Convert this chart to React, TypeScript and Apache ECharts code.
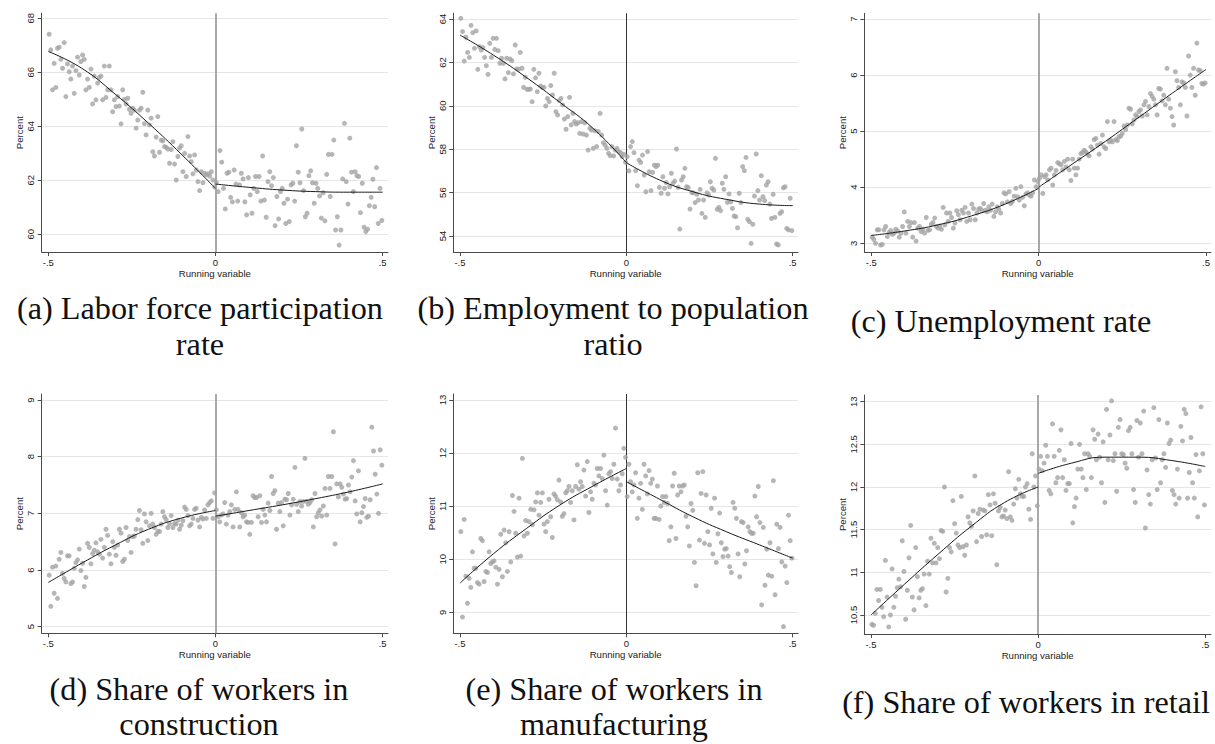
import React, { useEffect, useRef } from "react";
import * as echarts from "echarts";

// ---------- shared ticks ----------
const X_TICKS = [-0.5, 0, 0.5];
const X_TICK_LABELS = ["-.5", "0", ".5"];
const FIT_X_LEFT = [-0.5, -0.4, -0.3, -0.2, -0.1, 0];
const FIT_X_RIGHT = [0, 0.1, 0.2, 0.3, 0.4, 0.5];
const X_TITLE = "Running variable";
const Y_TITLE = "Percent";

// ---------- (a) Labor force participation rate ----------
const A_Y_TICKS = [60, 62, 64, 66, 68];
const A_LEFT = [
  67.41, 66.83, 65.35, 66.33, 65.44, 66.89, 66.93, 66.48, 66.15, 67.1,
  65.1, 66.31, 66.02, 65.75, 66.23, 65.22, 66.06, 66.56, 65.9, 66.4,
  66.64, 66.48, 65.35, 65.75, 65.44, 66.12, 64.83, 65.86, 64.98, 65.6,
  65.81, 65.86, 64.98, 66.23, 65.07, 65.35, 66.23, 65.35, 64.54, 64.98,
  64.73, 65.1, 64.75, 64.09, 65.35, 65.0, 64.83, 65.04, 64.63, 64.48,
  64.67, 64.6, 63.93, 64.23, 64.6, 64.67, 65.26, 64.1, 63.68, 64.6,
  64.05, 64.3, 63.06, 62.9, 63.6, 64.36, 63.04, 63.49, 63.46, 63.25,
  63.22, 63.16, 62.63, 63.14, 63.43, 62.6, 62.01, 62.88, 63.19, 63.28,
  62.32, 63.0, 62.14, 63.62, 62.9, 62.69, 62.24, 62.94, 62.38, 61.95,
  61.62, 62.32, 61.91, 62.26, 62.2, 62.24, 62.16, 62.32, 62.01, 61.75,
];
const A_RIGHT = [
  61.91, 61.58, 63.1, 62.67, 61.7, 60.94, 62.26, 62.3, 61.37, 61.2,
  62.38, 61.86, 61.23, 61.83, 62.26, 62.05, 61.2, 60.72, 62.1, 61.46,
  60.78, 61.7, 62.14, 61.58, 62.14, 61.23, 62.9, 61.27, 60.63, 61.95,
  62.32, 61.8, 62.1, 60.32, 61.4, 60.57, 61.58, 61.7, 61.15, 60.4,
  61.3, 60.47, 61.83, 61.89, 61.23, 63.28, 62.3, 61.91, 63.9, 61.62,
  60.65, 60.78, 62.17, 62.35, 61.91, 61.15, 61.89, 61.7, 61.42, 60.6,
  61.54, 60.5, 62.22, 62.96, 61.4, 62.96, 63.49, 60.16, 60.65, 59.6,
  60.16, 62.05, 64.11, 61.95, 61.12, 63.56, 62.3, 61.58, 62.32, 62.17,
  62.14, 60.8, 61.89, 60.26, 60.1, 60.19, 61.06, 61.37, 62.04, 61.02,
  62.47, 60.4, 61.7, 60.51,
];
const A_FIT_L = [66.77, 66.15, 65.19, 64.11, 62.94, 61.7];
const A_FIT_R = [61.86, 61.74, 61.64, 61.58, 61.56, 61.56];
const A_CAPTION = ["(a) Labor force participation", "rate"];

// ---------- (b) Employment to population ratio ----------
const B_Y_TICKS = [54, 56, 58, 60, 62, 64];
const B_LEFT = [
  64.03, 63.42, 62.06, 63.16, 62.46, 62.23, 63.71, 63.37, 62.65, 63.45,
  61.68, 62.72, 62.57, 62.68, 62.23, 61.85, 61.45, 62.88, 62.23, 63.11,
  62.6, 63.11, 62.54, 61.96, 62.19, 61.96, 61.24, 62.19, 61.53, 62.16,
  62.08, 61.47, 62.8, 61.7, 61.68, 62.46, 61.73, 60.85, 61.31, 60.76,
  60.76, 60.77, 60.19, 61.68, 61.29, 60.65, 61.5, 60.91, 60.84, 60.85,
  59.99, 60.34, 60.19, 60.93, 60.5, 61.5, 59.73, 59.58, 60.24, 60.34,
  60.04, 59.39, 58.92, 59.5, 60.39, 59.12, 59.65, 59.27, 59.16, 59.22,
  58.73, 59.27, 58.7, 59.22, 58.65, 57.96, 58.96, 58.88, 58.04, 58.85,
  58.12, 58.81, 59.65, 58.65, 58.3, 58.19, 58.04, 57.81, 57.7, 58.12,
  57.69, 57.96, 58.04, 57.89, 57.84, 57.66, 57.77, 57.4,
];
const B_RIGHT = [
  57.66, 57.0, 58.12, 58.35, 57.84, 57.01, 56.32, 57.5, 57.39, 57.73,
  56.81, 56.04, 57.89, 56.96, 56.09, 56.93, 57.27, 57.2, 57.27, 56.24,
  55.97, 56.73, 56.2, 56.46, 55.94, 56.27, 56.89, 56.43, 56.53, 58.01,
  56.24, 54.32, 56.58, 56.73, 57.12, 56.27, 56.23, 55.24, 56.0, 55.99,
  55.54, 55.92, 55.66, 56.15, 55.04, 55.66, 54.86, 55.99, 55.89, 56.5,
  56.2, 56.12, 57.58, 55.23, 55.32, 55.17, 56.43, 56.15, 56.73, 55.55,
  55.94, 55.58, 55.27, 54.92, 54.89, 54.38, 55.97, 55.54, 57.2, 57.01,
  57.62, 54.77, 54.66, 53.66, 54.54, 55.84, 57.78, 56.09, 55.66, 56.78,
  55.81, 55.63, 56.35, 56.5, 55.47, 54.81, 55.92, 54.86, 53.63, 53.59,
  55.04, 55.12, 56.22, 56.27, 54.35, 54.28, 55.74, 54.25,
];
const B_FIT_L = [63.26, 62.34, 61.3, 60.16, 58.96, 57.38];
const B_FIT_R = [57.38, 56.58, 56.04, 55.69, 55.47, 55.4];
const B_CAPTION = ["(b) Employment to population", "ratio"];

// ---------- (c) Unemployment rate ----------
const C_Y_TICKS = [3, 4, 5, 6, 7];
const C_LEFT = [
  3.11, 3.07, 3.0, 3.24, 3.24, 2.97, 2.98, 3.24, 3.3, 3.12,
  3.19, 3.23, 3.16, 3.18, 3.25, 3.22, 3.11, 3.18, 3.3, 3.56,
  3.18, 3.39, 3.3, 3.37, 3.11, 3.37, 3.04, 3.27, 3.3, 3.21,
  3.25, 3.18, 3.46, 3.23, 3.24, 3.34, 3.37, 3.45, 3.3, 3.27,
  3.31, 3.25, 3.64, 3.33, 3.54, 3.39, 3.54, 3.46, 3.27, 3.36,
  3.58, 3.51, 3.42, 3.59, 3.54, 3.64, 3.39, 3.54, 3.42, 3.7,
  3.62, 3.42, 3.54, 3.61, 3.62, 3.58, 3.71, 3.59, 3.56, 3.65,
  3.59, 3.7, 3.48, 3.56, 3.65, 3.61, 3.54, 3.71, 3.9, 3.88,
  3.74, 3.92, 3.71, 3.75, 3.84, 3.98, 3.83, 3.77, 4.01, 3.82,
  3.67, 3.88, 3.9, 3.86, 3.84, 3.9, 4.13, 4.01, 4.1,
];
const C_RIGHT = [
  4.16, 4.22, 3.89, 4.19, 4.22, 4.13, 4.31, 4.34, 4.04, 4.22,
  4.3, 4.44, 4.42, 4.4, 4.31, 4.46, 4.36, 4.5, 4.31, 4.12,
  4.5, 4.34, 4.22, 4.34, 4.5, 4.6, 4.62, 4.66, 4.63, 4.59,
  4.56, 4.72, 4.68, 4.85, 4.87, 4.75, 4.59, 4.78, 4.93, 4.72,
  4.69, 5.17, 4.81, 4.84, 4.81, 5.17, 4.85, 4.83, 4.9, 4.91,
  4.96, 5.09, 5.03, 5.11, 5.41, 5.39, 5.13, 5.2, 5.29, 5.26,
  5.35, 5.38, 5.27, 5.47, 5.53, 5.29, 5.44, 5.67, 5.62, 5.57,
  5.47, 5.29, 5.76, 5.75, 5.54, 5.64, 5.47, 6.12, 5.57, 5.41,
  5.26, 5.11, 6.06, 5.9, 5.78, 5.47, 5.88, 5.86, 5.78, 5.27,
  6.34, 6.0, 5.78, 6.12, 5.64, 6.57, 6.09, 6.08, 5.85, 5.84, 5.86,
];
const C_FIT_L = [3.14, 3.22, 3.33, 3.49, 3.7, 3.98];
const C_FIT_R = [4.0, 4.41, 4.82, 5.25, 5.68, 6.1];
const C_CAPTION = ["(c) Unemployment rate"];

// ---------- (d) Share of workers in construction ----------
const D_Y_TICKS = [5, 6, 7, 8, 9];
const D_LEFT = [
  5.91, 5.36, 6.05, 5.59, 6.07, 5.5, 6.19, 6.31, 5.94, 5.85,
  5.79, 6.25, 6.25, 5.76, 5.79, 6.03, 6.13, 6.18, 6.37, 5.99,
  6.12, 5.71, 5.87, 6.47, 6.4, 6.11, 6.29, 6.35, 6.48, 6.32,
  6.28, 6.54, 6.21, 6.4, 6.72, 6.61, 6.28, 6.11, 6.5, 6.4,
  6.26, 6.44, 6.72, 6.65, 6.15, 6.19, 6.75, 6.52, 6.59, 6.31,
  6.59, 6.6, 6.72, 6.89, 7.05, 6.71, 6.47, 6.99, 6.85, 6.52,
  6.78, 7.0, 6.81, 6.75, 6.63, 6.68, 6.68, 6.81, 7.03, 6.94,
  6.89, 6.75, 6.82, 6.96, 6.75, 6.82, 6.81, 6.88, 6.72, 6.79,
  6.87, 7.11, 7.07, 6.96, 6.78, 6.81, 6.91, 7.07, 7.09, 6.88,
  6.76, 6.93, 6.9, 7.06, 6.91, 7.15, 7.19, 7.22, 6.91, 7.36,
];
const D_RIGHT = [
  7.06, 6.94, 6.85, 6.97, 6.99, 7.19, 6.81, 6.97, 7.03, 7.15,
  6.76, 7.07, 7.38, 7.07, 6.76, 7.01, 6.94, 6.97, 6.85, 6.84,
  6.63, 6.84, 7.31, 7.28, 7.28, 6.94, 7.31, 6.84, 7.07, 6.97,
  6.85, 7.18, 7.05, 7.65, 7.35, 7.4, 6.72, 7.18, 7.03, 7.19,
  6.78, 7.25, 7.24, 7.35, 6.97, 7.15, 7.25, 7.81, 7.16, 7.03,
  7.21, 7.13, 7.21, 7.97, 7.21, 7.16, 7.19, 7.24, 6.76, 7.35,
  6.94, 7.01, 7.06, 6.95, 7.13, 7.44, 6.97, 7.65, 7.44, 7.65,
  8.44, 6.46, 7.52, 7.29, 7.52, 7.46, 7.34, 7.25, 7.26, 7.5,
  7.38, 7.64, 7.93, 7.22, 6.99, 7.75, 6.85, 7.01, 7.12, 7.26,
  6.93, 6.95, 7.24, 8.52, 8.1, 7.69, 7.34, 7.0, 8.12, 7.85,
];
const D_FIT_L = [5.78, 6.12, 6.44, 6.72, 6.92, 7.05];
const D_FIT_R = [6.95, 7.05, 7.15, 7.26, 7.38, 7.52];
const D_CAPTION = ["(d) Share of workers in", "construction"];

// ---------- (e) Share of workers in manufacturing ----------
const E_Y_TICKS = [9, 10, 11, 12, 13];
const E_LEFT = [
  10.52, 8.91, 10.75, 9.68, 9.17, 9.64, 9.47, 10.14, 9.83, 9.83,
  9.56, 9.53, 10.39, 10.35, 9.58, 9.77, 9.75, 10.14, 9.92, 9.95,
  9.97, 9.85, 9.53, 9.81, 10.47, 9.67, 10.55, 10.31, 9.77, 10.52,
  9.95, 11.2, 10.9, 10.49, 10.04, 11.15, 10.06, 11.9, 10.44, 10.73,
  10.49, 10.71, 10.94, 10.65, 10.93, 11.08, 11.25, 10.83, 11.07, 11.25,
  10.66, 10.52, 10.71, 11.13, 10.8, 10.41, 11.23, 11.19, 11.12, 11.49,
  11.08, 10.81, 10.86, 11.25, 11.29, 11.37, 11.07, 11.29, 10.74, 11.37,
  11.78, 11.32, 11.46, 11.37, 11.68, 11.19, 11.84, 10.88, 11.27, 11.13,
  11.43, 11.4, 11.71, 11.57, 11.71, 11.52, 11.96, 11.29, 11.02, 11.61,
  11.65, 11.52, 11.79, 12.47, 11.51, 11.29, 11.4, 11.61, 12.09, 11.92,
];
const E_RIGHT = [
  11.18, 11.79, 11.46, 11.27, 11.4, 11.63, 10.77, 11.15, 11.43, 10.94,
  11.79, 11.57, 11.23, 11.67, 11.43, 11.51, 10.77, 10.77, 11.38, 10.75,
  11.0, 11.18, 11.07, 11.18, 11.05, 10.35, 10.61, 11.38, 11.62, 10.39,
  11.21, 11.38, 11.27, 11.38, 11.4, 10.81, 10.61, 10.25, 11.05, 10.92,
  9.94, 9.5, 11.63, 10.36, 11.24, 11.65, 10.3, 11.21, 10.52, 10.27,
  10.96, 10.1, 11.15, 9.94, 10.48, 10.87, 10.31, 10.05, 10.19, 10.2,
  10.06, 9.86, 9.75, 11.07, 10.96, 10.77, 10.1, 9.67, 10.71, 10.69,
  9.91, 10.16, 10.61, 10.52, 10.49, 10.49, 11.19, 10.8, 11.37, 10.69,
  9.14, 10.6, 9.51, 10.19, 9.7, 10.31, 9.68, 11.48, 9.33, 10.66,
  10.2, 10.6, 9.95, 8.73, 9.87, 9.56, 10.83, 10.35, 10.02,
];
const E_FIT_L = [9.55, 10.1, 10.58, 11.02, 11.38, 11.71];
const E_FIT_R = [11.46, 11.13, 10.8, 10.52, 10.27, 10.02];
const E_CAPTION = ["(e) Share of workers in", "manufacturing"];

// ---------- (f) Share of workers in retail ----------
const F_Y_TICKS = [10.5, 11, 11.5, 12, 12.5, 13];
const F_LEFT = [
  10.39, 10.38, 10.52, 10.8, 10.67, 10.8, 10.59, 10.48, 11.14, 10.71,
  10.36, 10.5, 11.04, 10.59, 10.72, 10.82, 10.92, 10.83, 11.37, 11.01,
  10.45, 10.79, 11.17, 11.55, 10.71, 10.56, 11.29, 10.95, 10.7, 10.79,
  10.81, 10.98, 10.61, 11.13, 10.98, 11.4, 11.11, 11.34, 11.11, 11.29,
  11.16, 11.49, 11.48, 12.0, 10.77, 10.93, 11.29, 11.24, 11.84, 11.57,
  11.46, 11.32, 11.29, 11.89, 11.3, 11.2, 11.32, 11.65, 11.58, 11.54,
  11.72, 12.13, 11.36, 11.69, 11.74, 11.42, 11.73, 11.72, 11.44, 11.91,
  11.79, 11.43, 11.92, 11.81, 11.09, 11.72, 11.76, 11.65, 11.66, 11.73,
  11.63, 12.18, 11.65, 11.61, 11.8, 11.98, 11.87, 12.09, 11.92, 11.89,
  11.89, 12.0, 12.04, 11.74, 11.62, 12.39, 12.0, 12.13, 11.78,
];
const F_RIGHT = [
  12.21, 12.36, 12.19, 12.28, 12.49, 12.36, 11.96, 11.92, 12.74, 12.36,
  12.05, 12.11, 12.43, 12.67, 12.11, 12.32, 11.96, 12.04, 12.04, 12.51,
  11.58, 11.77, 11.87, 12.21, 12.5, 12.21, 12.11, 12.39, 11.97, 12.39,
  12.36, 12.11, 12.67, 12.56, 12.32, 12.62, 12.35, 12.05, 12.53, 11.82,
  12.91, 12.32, 12.61, 13.01, 12.31, 12.39, 11.95, 12.7, 12.79, 12.39,
  12.38, 12.28, 12.22, 12.66, 12.7, 12.39, 11.97, 11.82, 12.78, 12.35,
  12.75, 12.39, 12.89, 11.52, 12.2, 11.91, 11.8, 12.32, 12.93, 12.34,
  11.97, 12.79, 12.05, 12.32, 12.39, 12.23, 12.75, 12.51, 12.55, 11.96,
  11.91, 11.8, 12.21, 11.87, 12.71, 12.54, 12.91, 12.86, 11.87, 12.17,
  12.58, 12.05, 11.87, 12.38, 11.65, 12.19, 12.94, 12.39, 11.79,
];
const F_FIT_L = [10.5, 10.86, 11.21, 11.54, 11.82, 12.0];
const F_FIT_R = [12.16, 12.28, 12.35, 12.35, 12.31, 12.24];
const F_CAPTION = ["(f) Share of workers in retail"];

// ---------- layout (pixels) ----------
type Layout = {
  gl: number; gr: number; gt: number; gb: number;
  x0: number; x1: number; // pixel of x=-0.5 and x=0.5
  yTop: [number, number]; yBot: [number, number]; // [value, pixel]
  capX: number; capY: number[];
  vColor: string; vWidth: number;
};
const LAYOUT: Layout[] = [
  { gl: 41.7, gr: 388, gt: 13.3, gb: 252, x0: 48.3, x1: 382.7, yTop: [68, 18.3], yBot: [60, 234.3], capX: 200, capY: [309, 345], vColor: "#8c8c8c", vWidth: 1.5 },
  { gl: 453.3, gr: 798, gt: 13.3, gb: 252, x0: 460, x1: 792.7, yTop: [64, 19], yBot: [54, 236], capX: 613, capY: [309, 345], vColor: "#333333", vWidth: 1 },
  { gl: 864.3, gr: 1211, gt: 13.3, gb: 252, x0: 871.3, x1: 1206, yTop: [7, 19], yBot: [3, 243.3], capX: 1001, capY: [322], vColor: "#8c8c8c", vWidth: 1.5 },
  { gl: 41.7, gr: 388, gt: 394, gb: 633.3, x0: 48.3, x1: 382.7, yTop: [9, 400], yBot: [5, 626.7], capX: 199, capY: [690, 725], vColor: "#8c8c8c", vWidth: 1.5 },
  { gl: 453.3, gr: 798, gt: 394, gb: 633.3, x0: 460, x1: 792.7, yTop: [13, 400], yBot: [9, 612.3], capX: 614, capY: [690, 725], vColor: "#333333", vWidth: 1 },
  { gl: 864.3, gr: 1211, gt: 395, gb: 634, x0: 871, x1: 1205.3, yTop: [13, 401.7], yBot: [10.5, 615], capX: 1026, capY: [703], vColor: "#8c8c8c", vWidth: 1.5 },
];

const PANELS = [
  { left: A_LEFT, right: A_RIGHT, fitL: A_FIT_L, fitR: A_FIT_R, yTicks: A_Y_TICKS, caption: A_CAPTION },
  { left: B_LEFT, right: B_RIGHT, fitL: B_FIT_L, fitR: B_FIT_R, yTicks: B_Y_TICKS, caption: B_CAPTION },
  { left: C_LEFT, right: C_RIGHT, fitL: C_FIT_L, fitR: C_FIT_R, yTicks: C_Y_TICKS, caption: C_CAPTION },
  { left: D_LEFT, right: D_RIGHT, fitL: D_FIT_L, fitR: D_FIT_R, yTicks: D_Y_TICKS, caption: D_CAPTION },
  { left: E_LEFT, right: E_RIGHT, fitL: E_FIT_L, fitR: E_FIT_R, yTicks: E_Y_TICKS, caption: E_CAPTION },
  { left: F_LEFT, right: F_RIGHT, fitL: F_FIT_L, fitR: F_FIT_R, yTicks: F_Y_TICKS, caption: F_CAPTION },
];

const AXIS_COLOR = "#4a4a4a";
const TICK_FONT = "'Liberation Sans', Arial, sans-serif";
const CAPTION_FONT = "'Liberation Serif', 'Times New Roman', serif";

function binPoints(vals: number[], start: number) {
  const n = vals.length;
  return vals.map((v, k) => [start + ((k + 0.5) * 0.5) / n, v]);
}

function buildOption() {
  const grid: any[] = [];
  const xAxis: any[] = [];
  const yAxis: any[] = [];
  const series: any[] = [];
  const graphic: any[] = [];

  PANELS.forEach((p, i) => {
    const L = LAYOUT[i];
    grid.push({ left: L.gl, top: L.gt, width: L.gr - L.gl, height: L.gb - L.gt });
    const ux = 1 / (L.x1 - L.x0);
    const xmin = -0.5 - (L.x0 - L.gl) * ux;
    const xmax = 0.5 + (L.gr - L.x1) * ux;
    const uy = (L.yTop[0] - L.yBot[0]) / (L.yBot[1] - L.yTop[1]);
    const ymax = L.yTop[0] + (L.yTop[1] - L.gt) * uy;
    const ymin = L.yBot[0] - (L.gb - L.yBot[1]) * uy;

    xAxis.push({
      type: "value",
      gridIndex: i,
      min: xmin,
      max: xmax,
      axisLine: { show: true, onZero: false, lineStyle: { color: AXIS_COLOR, width: 1 } },
      axisTick: { show: true, length: 4, customValues: X_TICKS, lineStyle: { color: AXIS_COLOR, width: 1 } },
      axisLabel: {
        customValues: X_TICKS,
        formatter: (v: number) => {
          const idx = X_TICKS.findIndex((t) => Math.abs(t - v) < 1e-9);
          return idx >= 0 ? X_TICK_LABELS[idx] : "";
        },
        fontSize: 9.5,
        color: "#222",
        margin: 5,
        fontFamily: TICK_FONT,
      },
      splitLine: { show: false },
      name: X_TITLE,
      nameLocation: "middle",
      nameGap: 16,
      nameTextStyle: { fontSize: 9.6, color: "#222", fontFamily: TICK_FONT },
    });

    yAxis.push({
      type: "value",
      gridIndex: i,
      min: ymin,
      max: ymax,
      axisLine: { show: true, onZero: false, lineStyle: { color: AXIS_COLOR, width: 1 } },
      axisTick: { show: true, length: 4, customValues: p.yTicks, lineStyle: { color: AXIS_COLOR, width: 1 } },
      axisLabel: {
        customValues: p.yTicks,
        formatter: (v: number) => String(v),
        rotate: 90,
        fontSize: 9.5,
        color: "#222",
        margin: 6,
        fontFamily: TICK_FONT,
      },
      splitLine: { show: true, lineStyle: { color: "#e6e6e6", width: 1 } },
      name: Y_TITLE,
      nameLocation: "middle",
      nameRotate: 90,
      nameGap: 17,
      nameTextStyle: { fontSize: 9.6, color: "#1e2d45", fontFamily: TICK_FONT },
    });

    series.push({
      type: "scatter",
      xAxisIndex: i,
      yAxisIndex: i,
      data: [...binPoints(p.left, -0.5), ...binPoints(p.right, 0)],
      symbolSize: 5,
      itemStyle: { color: "#a4a4a4" },
      silent: true,
      z: 2,
      markLine: {
        silent: true,
        symbol: "none",
        label: { show: false },
        lineStyle: { color: L.vColor, width: L.vWidth, type: "solid" },
        data: [{ xAxis: 0 }],
        z: 1,
      },
    });
    series.push({
      type: "line",
      xAxisIndex: i,
      yAxisIndex: i,
      data: FIT_X_LEFT.map((x, k) => [x, p.fitL[k]]),
      smooth: true,
      showSymbol: false,
      silent: true,
      lineStyle: { color: "#1a1a1a", width: 1 },
      z: 3,
    });
    series.push({
      type: "line",
      xAxisIndex: i,
      yAxisIndex: i,
      data: FIT_X_RIGHT.map((x, k) => [x, p.fitR[k]]),
      smooth: true,
      showSymbol: false,
      silent: true,
      lineStyle: { color: "#1a1a1a", width: 1 },
      z: 3,
    });

    p.caption.forEach((line, k) => {
      graphic.push({
        type: "text",
        x: L.capX,
        y: L.capY[k],
        scaleX: 1.04,
        silent: true,
        style: {
          text: line,
          fontFamily: CAPTION_FONT,
          fontSize: 31,
          fill: "#111",
          textAlign: "center",
          textVerticalAlign: "middle",
        },
      });
    });
  });

  return {
    animation: false,
    backgroundColor: "#ffffff",
    textStyle: { fontFamily: TICK_FONT },
    grid,
    xAxis,
    yAxis,
    series,
    graphic,
  };
}

export default function App() {
  const ref = useRef<HTMLDivElement>(null);
  useEffect(() => {
    if (!ref.current) return;
    const chart = echarts.init(ref.current, undefined, { renderer: "svg" });
    chart.setOption(buildOption() as any);
    return () => chart.dispose();
  }, []);
  return (
    <div
      ref={ref}
      style={{ position: "fixed", left: 0, top: 0, width: 1215, height: 744, background: "#fff" }}
    />
  );
}
